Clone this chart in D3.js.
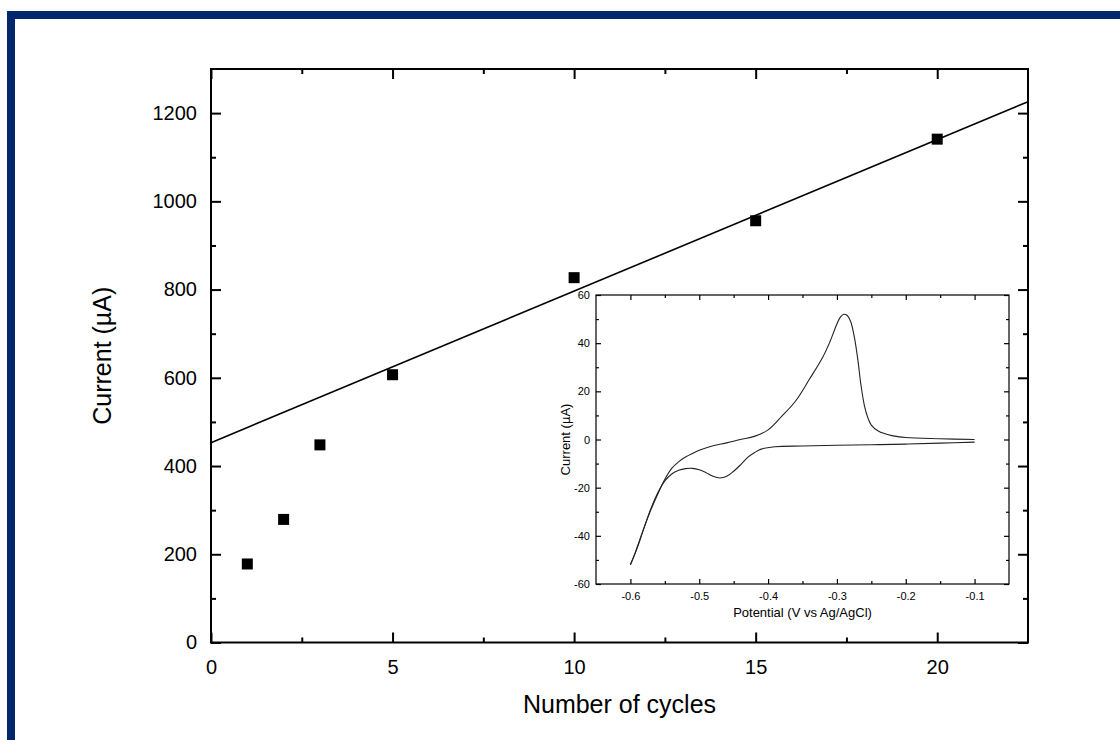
<!DOCTYPE html>
<html>
<head>
<meta charset="utf-8">
<script src="https://cdn.jsdelivr.net/npm/d3@7"></script>
<style>
  html, body { margin: 0; padding: 0; background: #fff; }
  svg text { font-family: Arial, "Liberation Sans", sans-serif; fill: #000; }
</style>
</head>
<body>
<svg id="chart" width="1120" height="740"></svg>
<script>
// main plot: peak current vs number of deposition cycles
var cycles =        [1, 2, 3, 5, 10, 15, 20]
var peakCurrent =   [178, 279, 448, 607, 827, 956, 1141]
var fitIntercept =  453
var fitSlope =      34.35
var xMajor =        [0, 5, 10, 15, 20]
var xMinor =        [2.5, 7.5, 12.5, 17.5]
var yMajor =        [0, 200, 400, 600, 800, 1000, 1200]
var yMinor =        [100, 300, 500, 700, 900, 1100]

// inset: cyclic voltammogram
var cvNegPotential = [-0.10, -0.15, -0.20, -0.25, -0.30, -0.35, -0.39, -0.41, -0.42, -0.43, -0.44, -0.45, -0.46, -0.47, -0.48, -0.49, -0.50, -0.51, -0.52, -0.53, -0.54, -0.55, -0.56, -0.57, -0.58, -0.59, -0.60]
var cvNegCurrent =   [-1.1, -1.5, -1.9, -2.2, -2.4, -2.7, -3.0, -4.0, -5.5, -7.5, -10.5, -13.2, -15.3, -16.0, -15.3, -13.8, -12.6, -12.0, -12.1, -12.8, -14.3, -17.2, -22.0, -28.5, -36.5, -45.0, -52.0]
var cvPosPotential = [-0.600, -0.595, -0.590, -0.580, -0.570, -0.560, -0.550, -0.540, -0.530, -0.520, -0.510, -0.500, -0.480, -0.460, -0.440, -0.420, -0.400, -0.380, -0.360, -0.340, -0.320, -0.310, -0.300, -0.295, -0.290, -0.285, -0.280, -0.275, -0.270, -0.265, -0.260, -0.255, -0.250, -0.240, -0.220, -0.200, -0.150, -0.100]
var cvPosCurrent =   [-52, -48.5, -44.5, -36.5, -29, -22.5, -16.5, -12, -9.3, -7.3, -5.8, -4.5, -2.6, -1.4, 0, 1.3, 4, 9.7, 16, 25, 34.5, 40.7, 48, 50.8, 52, 51.5, 49, 43, 34, 22.5, 14, 9, 6, 3.5, 1.6, 0.8, 0.3, 0]
var cvXMajor =       [-0.6, -0.5, -0.4, -0.3, -0.2, -0.1]
var cvXMinor =       [-0.55, -0.45, -0.35, -0.25, -0.15]
var cvYMajor =       [-60, -40, -20, 0, 20, 40, 60]
var cvYMinor =       [-50, -30, -10, 10, 30, 50]

var frameColor = '#00266b'

var svg = d3.select('#chart')

// navy frame (top and left only)
svg.append('rect').attr('x', 7).attr('y', 11).attr('width', 1113).attr('height', 8).attr('fill', frameColor)
svg.append('rect').attr('x', 7).attr('y', 11).attr('width', 8).attr('height', 729).attr('fill', frameColor)

// ---------- main plot ----------
var M = { left: 211, right: 1028, top: 69, bottom: 642.5 }
var x = d3.scaleLinear().domain([0, 22.5]).range([M.left, M.right])
var y = d3.scaleLinear().domain([0, 1300]).range([M.bottom, M.top])

var main = svg.append('g')
var plain = d => String(d)

function drawAxis(g, axis, tr, size, labels, fontSize) {
    var a = g.append('g').attr('transform', tr).call(axis)
    a.select('.domain').remove()
    a.selectAll('line').attr('stroke', '#000').attr('stroke-width', size)
    a.selectAll('text').style('font-size', fontSize + 'px')
    if (!labels) a.selectAll('text').remove()
    return a
}

// bottom
drawAxis(main, d3.axisBottom(x).tickValues(xMajor).tickFormat(plain).tickSizeInner(-10).tickSizeOuter(0).tickPadding(17), 'translate(0,' + M.bottom + ')', 2, true, 20)
drawAxis(main, d3.axisBottom(x).tickValues(xMinor).tickSizeInner(-5).tickSizeOuter(0), 'translate(0,' + M.bottom + ')', 2, false, 20)
// top
drawAxis(main, d3.axisTop(x).tickValues(xMajor).tickSizeInner(-10).tickSizeOuter(0), 'translate(0,' + M.top + ')', 2, false, 20)
drawAxis(main, d3.axisTop(x).tickValues(xMinor).tickSizeInner(-5).tickSizeOuter(0), 'translate(0,' + M.top + ')', 2, false, 20)
// left
drawAxis(main, d3.axisLeft(y).tickValues(yMajor).tickFormat(plain).tickSizeInner(-10).tickSizeOuter(0).tickPadding(14), 'translate(' + M.left + ',0)', 2, true, 20)
drawAxis(main, d3.axisLeft(y).tickValues(yMinor).tickSizeInner(-5).tickSizeOuter(0), 'translate(' + M.left + ',0)', 2, false, 20)
// right
drawAxis(main, d3.axisRight(y).tickValues(yMajor).tickSizeInner(-10).tickSizeOuter(0), 'translate(' + M.right + ',0)', 2, false, 20)
drawAxis(main, d3.axisRight(y).tickValues(yMinor).tickSizeInner(-5).tickSizeOuter(0), 'translate(' + M.right + ',0)', 2, false, 20)

main.append('rect')
    .attr('x', M.left).attr('y', M.top)
    .attr('width', M.right - M.left).attr('height', M.bottom - M.top)
    .attr('fill', 'none').attr('stroke', '#000').attr('stroke-width', 2)

// linear fit
var fitLine = d3.line().x(d => x(d)).y(d => y(fitIntercept + fitSlope * d))
main.append('path')
    .attr('d', fitLine(x.domain()))
    .attr('fill', 'none').attr('stroke', '#000').attr('stroke-width', 1.6)

// points
main.selectAll('rect.pt')
    .data(cycles)
    .enter().append('rect')
    .attr('class', 'pt')
    .attr('x', (d, i) => x(d) - 5.5)
    .attr('y', (d, i) => y(peakCurrent[i]) - 5.5)
    .attr('width', 11).attr('height', 11)
    .attr('fill', '#000')

main.append('text')
    .attr('x', (M.left + M.right) / 2).attr('y', 713)
    .attr('text-anchor', 'middle')
    .style('font-size', '25px')
    .text('Number of cycles')
main.append('text')
    .attr('transform', 'translate(111,' + ((M.top + M.bottom) / 2) + ') rotate(-90)')
    .attr('text-anchor', 'middle')
    .style('font-size', '25px')
    .text('Current (µA)')

// ---------- inset ----------
var I = { left: 596, right: 1009, top: 295, bottom: 584 }
var ix = d3.scaleLinear().domain([-0.65, -0.05]).range([I.left, I.right])
var iy = d3.scaleLinear().domain([-60, 60]).range([I.bottom, I.top])

var inset = svg.append('g')
inset.append('rect')
    .attr('x', I.left).attr('y', I.top)
    .attr('width', I.right - I.left).attr('height', I.bottom - I.top)
    .attr('fill', '#fff')

var fmt = d => d.toFixed(1)
drawAxis(inset, d3.axisBottom(ix).tickValues(cvXMajor).tickFormat(fmt).tickSizeInner(-5).tickSizeOuter(0).tickPadding(8), 'translate(0,' + I.bottom + ')', 1.2, true, 11)
drawAxis(inset, d3.axisBottom(ix).tickValues(cvXMinor).tickSizeInner(-3).tickSizeOuter(0), 'translate(0,' + I.bottom + ')', 1.2, false, 11)
drawAxis(inset, d3.axisTop(ix).tickValues(cvXMajor).tickSizeInner(-5).tickSizeOuter(0), 'translate(0,' + I.top + ')', 1.2, false, 11)
drawAxis(inset, d3.axisTop(ix).tickValues(cvXMinor).tickSizeInner(-3).tickSizeOuter(0), 'translate(0,' + I.top + ')', 1.2, false, 11)
drawAxis(inset, d3.axisLeft(iy).tickValues(cvYMajor).tickFormat(plain).tickSizeInner(-5).tickSizeOuter(0).tickPadding(6), 'translate(' + I.left + ',0)', 1.2, true, 11)
drawAxis(inset, d3.axisLeft(iy).tickValues(cvYMinor).tickSizeInner(-3).tickSizeOuter(0), 'translate(' + I.left + ',0)', 1.2, false, 11)
drawAxis(inset, d3.axisRight(iy).tickValues(cvYMajor).tickSizeInner(-5).tickSizeOuter(0), 'translate(' + I.right + ',0)', 1.2, false, 11)
drawAxis(inset, d3.axisRight(iy).tickValues(cvYMinor).tickSizeInner(-3).tickSizeOuter(0), 'translate(' + I.right + ',0)', 1.2, false, 11)

inset.append('rect')
    .attr('x', I.left).attr('y', I.top)
    .attr('width', I.right - I.left).attr('height', I.bottom - I.top)
    .attr('fill', 'none').attr('stroke', '#000').attr('stroke-width', 1.2)

var cvLine = d3.line().x(d => ix(d[0])).y(d => iy(d[1])).curve(d3.curveCatmullRom)
var negScan = d3.zip(cvNegPotential, cvNegCurrent)
var posScan = d3.zip(cvPosPotential, cvPosCurrent)
inset.append('path').attr('d', cvLine(negScan))
    .attr('fill', 'none').attr('stroke', '#222').attr('stroke-width', 1.1)
inset.append('path').attr('d', cvLine(posScan))
    .attr('fill', 'none').attr('stroke', '#222').attr('stroke-width', 1.1)

inset.append('text')
    .attr('x', (I.left + I.right) / 2).attr('y', 617)
    .attr('text-anchor', 'middle')
    .style('font-size', '13px')
    .text('Potential (V vs Ag/AgCl)')
inset.append('text')
    .attr('transform', 'translate(570,' + ((I.top + I.bottom) / 2) + ') rotate(-90)')
    .attr('text-anchor', 'middle')
    .style('font-size', '13px')
    .text('Current (µA)')
</script>
</body>
</html>
